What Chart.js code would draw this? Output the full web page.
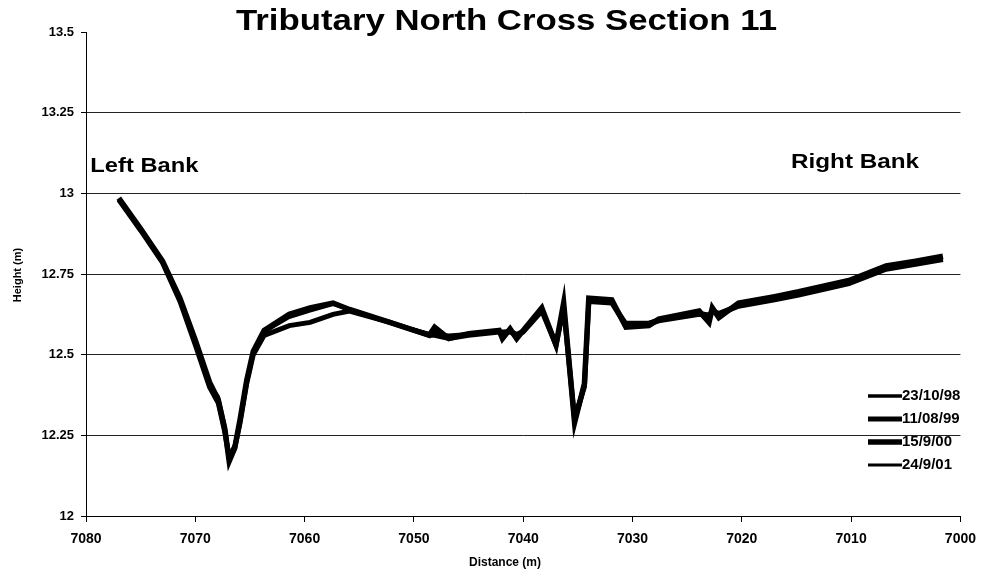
<!DOCTYPE html>
<html>
<head>
<meta charset="utf-8">
<script src="https://cdn.jsdelivr.net/npm/chart.js@4.4.1/dist/chart.umd.min.js"></script>
<style>
  body { margin: 0; background: #fff; }
  #wrap { width: 985px; height: 579px; }
</style>
</head>
<body>
<div id="wrap"><canvas id="chart" width="985" height="579"></canvas></div>
<script>
// survey distances (m), shared by all four surveys
const distances = [7077, 7075, 7073, 7071.4, 7070, 7068.7, 7067.9, 7067.3, 7066.9, 7066.4,
  7065.9, 7065.3, 7064.7, 7063.7, 7061.4, 7059.5, 7057.4, 7055.9, 7052.2, 7048.6,
  7048.1, 7046.8, 7045, 7042.2, 7041.9, 7041.2, 7040.6, 7040, 7038.3, 7037,
  7036.3, 7035.3, 7034.4, 7034, 7031.9, 7030.6, 7028.5, 7027.6, 7023.9, 7023,
  7022.7, 7022.1, 7020.3, 7017, 7014.8, 7010.2, 7006.8, 7004.1, 7001.6];

const heights98 = [12.98, 12.89, 12.79, 12.67, 12.54, 12.41, 12.37, 12.28, 12.19, 12.22,
  12.30, 12.42, 12.51, 12.57, 12.62, 12.64, 12.66, 12.64, 12.60, 12.565,
  12.565, 12.56, 12.565, 12.575, 12.57, 12.575, 12.565, 12.575, 12.64, 12.54,
  12.65, 12.31, 12.41, 12.67, 12.665, 12.60, 12.60, 12.61, 12.63, 12.625,
  12.64, 12.63, 12.655, 12.675, 12.69, 12.725, 12.77, 12.785, 12.80];

const heights99 = [12.98, 12.885, 12.785, 12.665, 12.53, 12.40, 12.35, 12.26, 12.18, 12.21,
  12.29, 12.41, 12.50, 12.56, 12.59, 12.60, 12.625, 12.635, 12.60, 12.56,
  12.56, 12.55, 12.56, 12.57, 12.57, 12.57, 12.56, 12.57, 12.635, 12.53,
  12.645, 12.30, 12.40, 12.665, 12.66, 12.59, 12.595, 12.605, 12.625, 12.62,
  12.635, 12.625, 12.65, 12.67, 12.685, 12.72, 12.765, 12.78, 12.795];

const heights00 = [12.985, 12.89, 12.79, 12.675, 12.545, 12.415, 12.36, 12.27, 12.17, 12.21,
  12.30, 12.42, 12.51, 12.575, 12.625, 12.645, 12.66, 12.64, 12.60, 12.56,
  12.585, 12.55, 12.565, 12.575, 12.55, 12.58, 12.55, 12.575, 12.645, 12.53,
  12.66, 12.29, 12.41, 12.675, 12.67, 12.585, 12.59, 12.61, 12.635, 12.60,
  12.645, 12.615, 12.66, 12.68, 12.695, 12.73, 12.775, 12.79, 12.805];

const heights01 = [12.98, 12.885, 12.785, 12.67, 12.54, 12.405, 12.36, 12.275, 12.18, 12.215,
  12.30, 12.415, 12.505, 12.57, 12.615, 12.635, 12.655, 12.64, 12.60, 12.565,
  12.57, 12.555, 12.56, 12.57, 12.56, 12.575, 12.56, 12.57, 12.64, 12.535,
  12.65, 12.30, 12.405, 12.67, 12.665, 12.595, 12.60, 12.61, 12.63, 12.615,
  12.64, 12.62, 12.655, 12.675, 12.69, 12.725, 12.77, 12.785, 12.80];

const surveyLabels = ['23/10/98', '11/08/99', '15/9/00', '24/9/01'];
const surveyWidths = [3.5, 5, 5.5, 3];
const yTicks = [12, 12.25, 12.5, 12.75, 13, 13.25, 13.5];
const xTicks = [7080, 7070, 7060, 7050, 7040, 7030, 7020, 7010, 7000];

const allHeights = [heights98, heights99, heights00, heights01];
const datasets = allHeights.map((h, i) => ({
  label: surveyLabels[i],
  data: distances.map((d, j) => ({ x: d, y: h[j] })),
  borderColor: '#000',
  borderWidth: surveyWidths[i],
  pointRadius: 0,
  fill: false,
  tension: 0
}));

const FONT = "'Liberation Sans', Arial, sans-serif";

// draw text stretched horizontally to a given width (the scan uses a wide face)
function wideText(ctx, text, x, y, width) {
  const w = ctx.measureText(text).width;
  ctx.save();
  ctx.translate(x, y);
  ctx.scale(width / w, 1);
  ctx.fillText(text, 0, 0);
  ctx.restore();
}

// titles, bank labels and the legend box
const extras = {
  id: 'extras',
  afterDraw(chart) {
    const ctx = chart.ctx;
    const xs = chart.scales.x, ys = chart.scales.y;
    ctx.save();
    ctx.fillStyle = '#000';
    ctx.textBaseline = 'middle';
    ctx.textAlign = 'left';

    ctx.font = 'bold 29px ' + FONT;
    wideText(ctx, 'Tributary North Cross Section 11', 236, 22, 541);

    ctx.font = 'bold 21px ' + FONT;
    wideText(ctx, 'Left Bank', xs.getPixelForValue(7079.6), ys.getPixelForValue(13.084), 108);
    wideText(ctx, 'Right Bank', xs.getPixelForValue(7015.5), ys.getPixelForValue(13.097), 128);

    ctx.font = 'bold 12px ' + FONT;
    ctx.textAlign = 'center';
    ctx.fillText('Distance (m)', 505, 563);
    ctx.save();
    ctx.translate(18, 275);
    ctx.rotate(-Math.PI / 2);
    ctx.font = 'bold 11px ' + FONT;
    ctx.fillText('Height (m)', 0, 0);
    ctx.restore();

    // legend
    ctx.font = 'bold 15px ' + FONT;
    ctx.textAlign = 'left';
    const rows = [396, 419, 442, 465];
    chart.data.datasets.forEach((ds, i) => {
      ctx.beginPath();
      ctx.strokeStyle = '#000';
      ctx.lineWidth = ds.borderWidth;
      ctx.moveTo(868, rows[i]);
      ctx.lineTo(902, rows[i]);
      ctx.stroke();
      ctx.fillText(ds.label, 902, rows[i]);
    });
    ctx.restore();
  }
};

new Chart(document.getElementById('chart'), {
  type: 'line',
  data: { datasets },
  options: {
    responsive: false,
    animation: false,
    layout: { padding: { top: 32, right: 21, left: 0, bottom: 0 } },
    plugins: {
      legend: { display: false },
      title: { display: false },
      tooltip: { enabled: false }
    },
    scales: {
      x: {
        type: 'linear',
        reverse: true,
        min: 7000,
        max: 7080,
        afterBuildTicks: s => { s.ticks = xTicks.map(v => ({ value: v })); },
        afterFit: s => { s.height = 63; },
        border: { display: true, color: '#000', width: 1 },
        grid: { drawOnChartArea: false, color: '#000', tickLength: 6 },
        ticks: {
          color: '#000',
          font: { family: FONT, size: 14, weight: 'bold' },
          maxRotation: 0,
          padding: 9,
          callback: v => String(v)
        }
      },
      y: {
        type: 'linear',
        min: 12,
        max: 13.5,
        afterBuildTicks: s => { s.ticks = yTicks.map(v => ({ value: v })); },
        afterFit: s => { s.width = 86; },
        border: { display: true, color: '#000', width: 1 },
        grid: {
          color: c => (c.tick && c.tick.value === 13.5 ? 'rgba(0,0,0,0)' : '#222'),
          tickLength: 5,
          tickColor: '#000'
        },
        ticks: {
          color: '#000',
          font: { family: FONT, size: 13, weight: 'bold' },
          padding: 7,
          callback: v => String(v)
        }
      }
    }
  },
  plugins: [extras]
});
</script>
</body>
</html>
